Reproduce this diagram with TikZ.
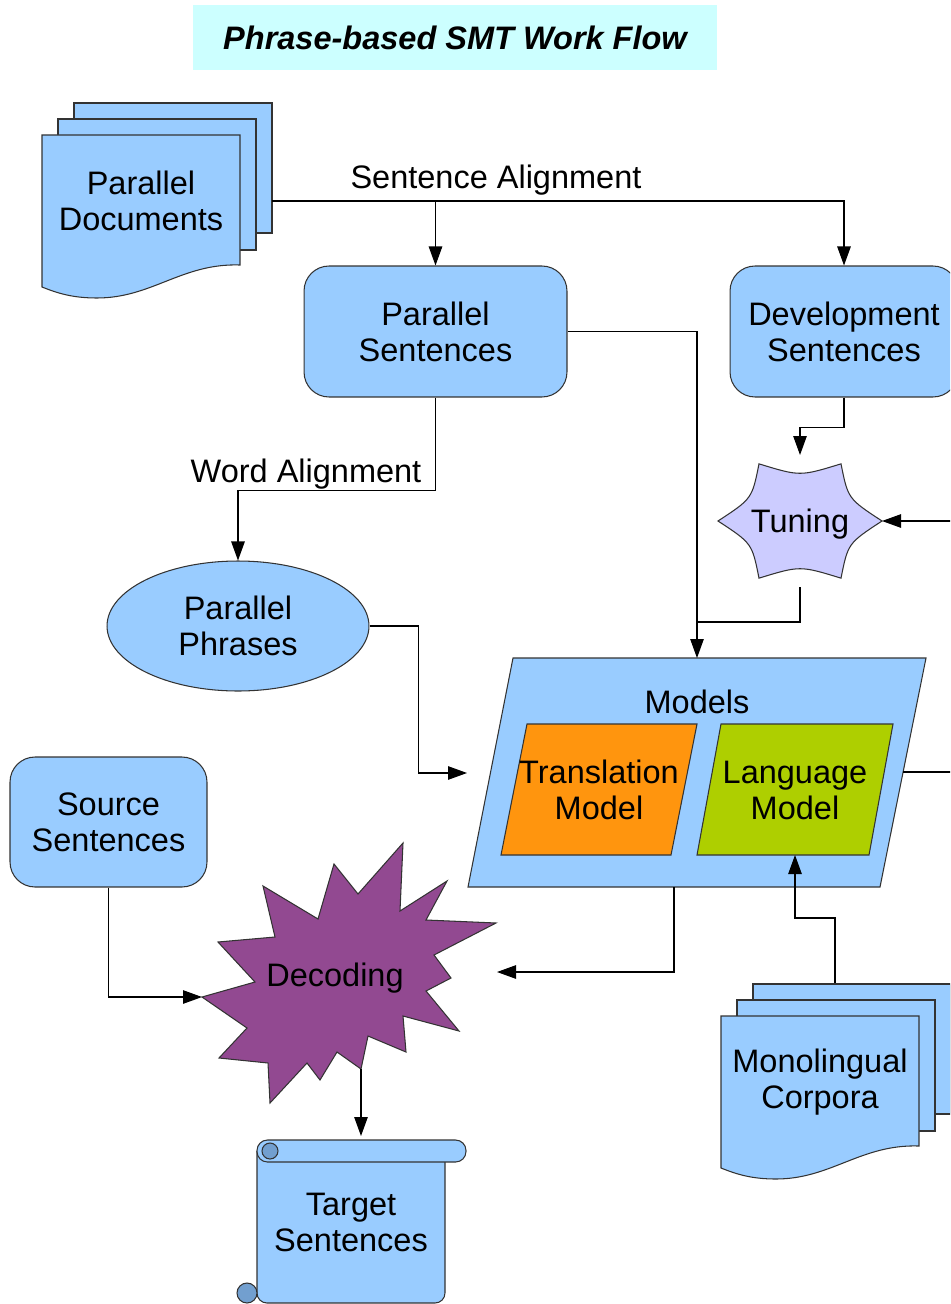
\documentclass[tikz,border=0pt]{standalone}
\usepackage{fontspec}
\setmainfont{Liberation Sans}
\usetikzlibrary{
  arrows.meta,
  calc,
  shapes.geometric,
  positioning
}
\definecolor{boxblue}{HTML}{99CCFF}
\definecolor{titlecyan}{HTML}{CCFFFF}
\definecolor{tunelilac}{HTML}{CCCCFF}
\definecolor{tmorange}{HTML}{FF950E}
\definecolor{lmgreen}{HTML}{AECF00}
\definecolor{decpurple}{RGB}{146,73,145}
\definecolor{curlblue}{HTML}{729FCF}
\definecolor{edgegray}{HTML}{333333}
\tikzset{%
  outline/.style={draw=edgegray, line width=0.6pt}, % border of every shape
  sentbox/.style={outline, fill=boxblue, rounded corners=0.5cm, inner sep=0pt},
  titlebox/.style={fill=titlecyan, minimum width=10.48cm, minimum height=1.3cm},
  flow/.style={draw, line width=0.6pt, -{Triangle[length=0.38cm, width=0.27cm]}},
  conn/.style={draw, line width=0.6pt},
  % stack of three pages, origin at the top left corner of the front page
  multidoc/.pic={
    \draw[outline, fill=boxblue] (32,-32) rectangle (230,98);
    \draw[outline, fill=boxblue] (16,-16) rectangle (214,115);
    \draw[outline, fill=boxblue] (0,0) -- (198,0) -- (198,130)
      .. controls (140,128) and (110,163) .. (55,163)
      .. controls (30,163) and (15,158) .. (0,152) -- cycle;
  }
}

\begin{document}
\begin{tikzpicture}[x=0.02cm, y=-0.02cm,
    every node/.style={font=\fontsize{18.5}{20.5}\selectfont, align=center}]
  \useasboundingbox (0,0) rectangle (950,1304);
  \clip (0,0) rectangle (950,1304);

  \node[titlebox] (title) at (455,37.5) {\bfseries\itshape Phrase-based SMT Work Flow};

  % documents
  \pic at (42,135) {multidoc};
  \node (pdocs) at (141,201) {Parallel\\Documents};
  \coordinate (pdocout) at (272,201);
  \pic at (721,1016) {multidoc};
  \node (mono) at (820,1082) {Monolingual\\Corpora};
  \coordinate (monotop) at (835,983);

  % sentence boxes
  \node[sentbox, minimum width=5.26cm, minimum height=2.62cm] (psent) at (435.5,331.5) {Parallel\\Sentences};
  \node[sentbox, minimum width=4.56cm, minimum height=2.62cm] (devsent) at (844,331.5) {Development\\Sentences};
  \node[sentbox, minimum width=3.94cm, minimum height=2.6cm] (srcsent) at (108.5,822) {Source\\Sentences};
  \node[ellipse, outline, fill=boxblue, minimum width=5.24cm, minimum height=2.6cm, inner sep=0pt] (pphr) at (238,626) {Parallel\\Phrases};

  % tuning star
  \coordinate (tc) at (800,521);
  \foreach \i in {0,...,5}
    \coordinate (t\i) at ($(tc)+({82*cos(60*\i)},{66*sin(60*\i)})$);
  \draw[outline, fill=tunelilac] (t0)
    \foreach \a/\b in {0/1,1/2,2/3,3/4,4/5,5/0} { .. controls ($(t\a)!0.5!(t\b)!0.22!(tc)$) .. (t\b) } -- cycle;
  \node (tuning) at (800,524) {Tuning};
  \coordinate (tuneN) at (800,455);
  \coordinate (tuneS) at (800,587);
  \coordinate (tuneE) at (882,521);

  % models
  \draw[outline, fill=boxblue] (513,658) -- (926,658) -- (880,887) -- (468,887) -- cycle;
  \node (models) at (697,702) {Models};
  \draw[outline, fill=tmorange] (527,724) -- (697,724) -- (671,855) -- (501,855) -- cycle;
  \node (tm) at (599,790) {Translation\\Model};
  \draw[outline, fill=lmgreen] (721,724) -- (893,724) -- (869,855) -- (697,855) -- cycle;
  \node (lm) at (795,790) {Language\\Model};
  \coordinate (mtop) at (697,658);
  \coordinate (mjoin) at (697,622);
  \coordinate (mleft) at (467,773);
  \coordinate (mright) at (903,772);
  \coordinate (mbot) at (674,887);
  \coordinate (lmS) at (795,855);

  % decoding burst
  \draw[outline, fill=decpurple] (403,843) -- (400,911) -- (447,881) -- (426,920) -- (496,923)
    -- (434,955) -- (451,978) -- (426,991) -- (459,1031) -- (403,1016) -- (406,1052)
    -- (368,1036) -- (361,1069) -- (337,1052) -- (320,1080) -- (307,1063) -- (270,1103)
    -- (268,1063) -- (219,1058) -- (247,1028) -- (202,997) -- (255,982) -- (218,942)
    -- (275,937) -- (263,886) -- (318,919) -- (334,864) -- (358,894) -- cycle;
  \node (decoding) at (335,978) {Decoding};
  \coordinate (decE) at (497,972);
  \coordinate (decW) at (202,997);
  \coordinate (decS) at (361,1069);

  % target scroll
  \draw[outline, fill=boxblue, rounded corners=0.2cm] (257,1151) -- (257,1303) -- (445,1303) -- (445,1151);
  \draw[outline, fill=boxblue, rounded corners=0.21cm] (257,1140) rectangle (466,1162);
  \draw[outline, fill=curlblue] (270,1151) circle[radius=0.16cm];
  \draw[outline, fill=curlblue] (247,1293) circle[radius=0.2cm];
  \node (tsent) at (351,1222) {Target\\Sentences};
  \coordinate (tsentN) at (361,1136);

  % right hand free ends
  \coordinate (rtune) at (960,521);
  \coordinate (rmod) at (960,772);

  % connectors
  \draw[flow] (pdocout) -| (psent.north);
  \draw[flow] (pdocout) -| (devsent.north);
  \node (salign) at (496,180) {Sentence Alignment};
  \draw[flow] (psent.south) -- ++(0,93) -| (pphr.north);
  \node (walign) at (306,474) {Word Alignment};
  \draw[flow] (psent.east) -| (mtop);
  \draw[flow] (devsent.south) -- ++(0,30) -| (tuneN);
  \draw[flow] (rtune) -- (tuneE);
  \draw[conn] (tuneS) |- (mjoin);
  \draw[flow] (pphr.east) -- ++(49,0) |- (mleft);
  \draw[conn] (mright) -- (rmod);
  \draw[flow] (mbot) |- (decE);
  \draw[flow] (monotop) -- ++(0,-65) -| (lmS);
  \draw[flow] (srcsent.south) |- (decW);
  \draw[flow] (decS) -- (tsentN);
\end{tikzpicture}
\end{document}
